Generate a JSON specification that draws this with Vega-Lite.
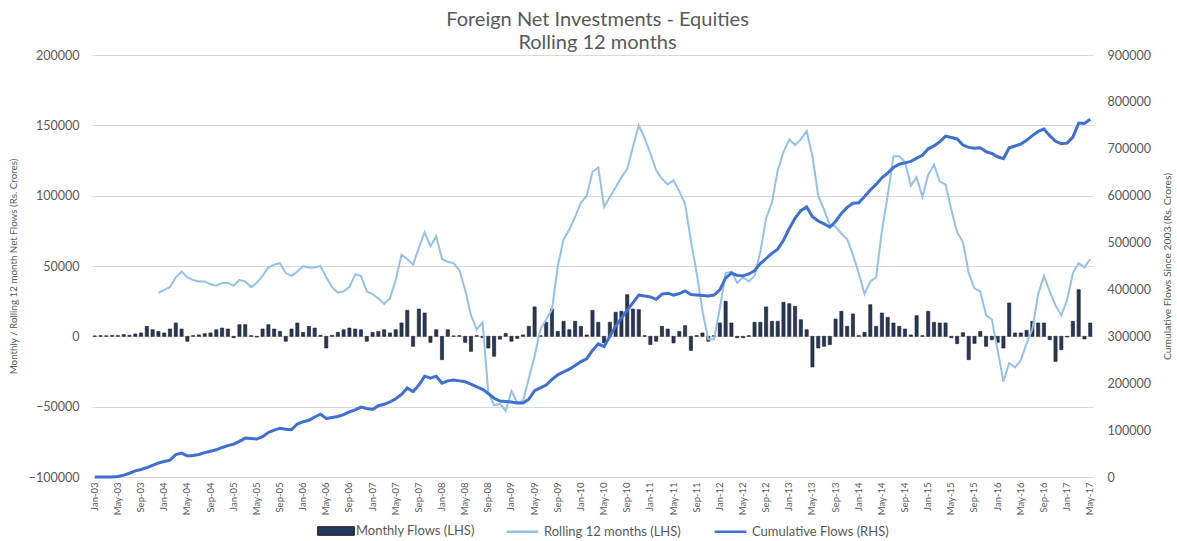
{
  "$schema": "https://vega.github.io/schema/vega-lite/v6.json",
  "width": 1001,
  "height": 422,
  "autosize": {"type": "none"},
  "padding": {"left": 92, "top": 55, "right": 84, "bottom": 64},
  "background": "white",
  "title": {
    "text": ["Foreign Net Investments - Equities", "Rolling 12 months"],
    "anchor": "middle",
    "fontSize": 20,
    "font": "Lato",
    "fontWeight": "normal",
    "color": "#595959",
    "lineHeight": 23,
    "offset": 2,
    "dx": 5,
    "dy": 6
  },
  "config": {
    "view": {"stroke": null},
    "font": "Lato",
    "axis": {"labelFont": "Lato", "titleFont": "Lato", "labelColor": "#595959", "titleColor": "#595959", "titleFontWeight": "normal"},
    "legend": {"labelFont": "Lato", "labelColor": "#595959", "labelFontSize": 13}
  },
  "data": {
    "values": [
      {"month":"Jan-03","monthly":300,"rolling":null,"cumulative":0},
      {"month":"Feb-03","monthly":500,"rolling":null,"cumulative":0},
      {"month":"Mar-03","monthly":400,"rolling":null,"cumulative":0},
      {"month":"Apr-03","monthly":600,"rolling":null,"cumulative":0},
      {"month":"May-03","monthly":500,"rolling":null,"cumulative":1000},
      {"month":"Jun-03","monthly":1200,"rolling":null,"cumulative":4000},
      {"month":"Jul-03","monthly":700,"rolling":null,"cumulative":8000},
      {"month":"Aug-03","monthly":1700,"rolling":null,"cumulative":13000},
      {"month":"Sep-03","monthly":2400,"rolling":null,"cumulative":16000},
      {"month":"Oct-03","monthly":7100,"rolling":null,"cumulative":20000},
      {"month":"Nov-03","monthly":4700,"rolling":null,"cumulative":25000},
      {"month":"Dec-03","monthly":3500,"rolling":31000,"cumulative":30000},
      {"month":"Jan-04","monthly":2400,"rolling":33000,"cumulative":33000},
      {"month":"Feb-04","monthly":5200,"rolling":35000,"cumulative":36000},
      {"month":"Mar-04","monthly":9500,"rolling":42000,"cumulative":48000},
      {"month":"Apr-04","monthly":5200,"rolling":46000,"cumulative":51000},
      {"month":"May-04","monthly":-3500,"rolling":42000,"cumulative":45000},
      {"month":"Jun-04","monthly":500,"rolling":40000,"cumulative":46000},
      {"month":"Jul-04","monthly":1000,"rolling":39000,"cumulative":48000},
      {"month":"Aug-04","monthly":1900,"rolling":39000,"cumulative":52000},
      {"month":"Sep-04","monthly":2400,"rolling":37000,"cumulative":55000},
      {"month":"Oct-04","monthly":4700,"rolling":36000,"cumulative":58000},
      {"month":"Nov-04","monthly":5900,"rolling":38000,"cumulative":63000},
      {"month":"Dec-04","monthly":5200,"rolling":38000,"cumulative":67000},
      {"month":"Jan-05","monthly":-1000,"rolling":36000,"cumulative":70000},
      {"month":"Feb-05","monthly":8300,"rolling":40000,"cumulative":76000},
      {"month":"Mar-05","monthly":8300,"rolling":39000,"cumulative":83000},
      {"month":"Apr-05","monthly":500,"rolling":35000,"cumulative":82000},
      {"month":"May-05","monthly":-500,"rolling":38000,"cumulative":81000},
      {"month":"Jun-05","monthly":5200,"rolling":43000,"cumulative":86000},
      {"month":"Jul-05","monthly":8300,"rolling":49000,"cumulative":95000},
      {"month":"Aug-05","monthly":5200,"rolling":51000,"cumulative":100000},
      {"month":"Sep-05","monthly":3500,"rolling":52000,"cumulative":104000},
      {"month":"Oct-05","monthly":-3500,"rolling":45000,"cumulative":102000},
      {"month":"Nov-05","monthly":5200,"rolling":43000,"cumulative":101000},
      {"month":"Dec-05","monthly":9500,"rolling":46000,"cumulative":113000},
      {"month":"Jan-06","monthly":2800,"rolling":50000,"cumulative":118000},
      {"month":"Feb-06","monthly":7100,"rolling":49000,"cumulative":121000},
      {"month":"Mar-06","monthly":5900,"rolling":49000,"cumulative":128000},
      {"month":"Apr-06","monthly":700,"rolling":50000,"cumulative":134000},
      {"month":"May-06","monthly":-8300,"rolling":42000,"cumulative":125000},
      {"month":"Jun-06","monthly":700,"rolling":35000,"cumulative":127000},
      {"month":"Jul-06","monthly":2800,"rolling":31000,"cumulative":129000},
      {"month":"Aug-06","monthly":4700,"rolling":32000,"cumulative":133000},
      {"month":"Sep-06","monthly":5900,"rolling":35000,"cumulative":139000},
      {"month":"Oct-06","monthly":5200,"rolling":44000,"cumulative":143000},
      {"month":"Nov-06","monthly":4700,"rolling":43000,"cumulative":149000},
      {"month":"Dec-06","monthly":-3500,"rolling":32000,"cumulative":146000},
      {"month":"Jan-07","monthly":2800,"rolling":30000,"cumulative":144000},
      {"month":"Feb-07","monthly":3500,"rolling":27000,"cumulative":152000},
      {"month":"Mar-07","monthly":4700,"rolling":23000,"cumulative":155000},
      {"month":"Apr-07","monthly":2400,"rolling":27000,"cumulative":160000},
      {"month":"May-07","monthly":4700,"rolling":40000,"cumulative":167000},
      {"month":"Jun-07","monthly":9500,"rolling":58000,"cumulative":176000},
      {"month":"Jul-07","monthly":18500,"rolling":55000,"cumulative":190000},
      {"month":"Aug-07","monthly":-7100,"rolling":51000,"cumulative":182000},
      {"month":"Sep-07","monthly":19400,"rolling":63000,"cumulative":196000},
      {"month":"Oct-07","monthly":16600,"rolling":74000,"cumulative":215000},
      {"month":"Nov-07","monthly":-4300,"rolling":64000,"cumulative":211000},
      {"month":"Dec-07","monthly":4700,"rolling":71000,"cumulative":215000},
      {"month":"Jan-08","monthly":-16600,"rolling":55000,"cumulative":200000},
      {"month":"Feb-08","monthly":4700,"rolling":53000,"cumulative":205000},
      {"month":"Mar-08","monthly":300,"rolling":52000,"cumulative":207000},
      {"month":"Apr-08","monthly":500,"rolling":47000,"cumulative":205000},
      {"month":"May-08","monthly":-4300,"rolling":33000,"cumulative":203000},
      {"month":"Jun-08","monthly":-10700,"rolling":15000,"cumulative":198000},
      {"month":"Jul-08","monthly":500,"rolling":5000,"cumulative":192000},
      {"month":"Aug-08","monthly":-1000,"rolling":10000,"cumulative":187000},
      {"month":"Sep-08","monthly":-8300,"rolling":-40000,"cumulative":178000},
      {"month":"Oct-08","monthly":-14200,"rolling":-49000,"cumulative":168000},
      {"month":"Nov-08","monthly":-2000,"rolling":-48000,"cumulative":162000},
      {"month":"Dec-08","monthly":2000,"rolling":-53000,"cumulative":161000},
      {"month":"Jan-09","monthly":-3500,"rolling":-39000,"cumulative":160000},
      {"month":"Feb-09","monthly":-1500,"rolling":-47000,"cumulative":158000},
      {"month":"Mar-09","monthly":1000,"rolling":-46000,"cumulative":158000},
      {"month":"Apr-09","monthly":7100,"rolling":-30000,"cumulative":166000},
      {"month":"May-09","monthly":20900,"rolling":-14000,"cumulative":184000},
      {"month":"Jun-09","monthly":500,"rolling":5000,"cumulative":190000},
      {"month":"Jul-09","monthly":10000,"rolling":12000,"cumulative":196000},
      {"month":"Aug-09","monthly":19400,"rolling":19000,"cumulative":208000},
      {"month":"Sep-09","monthly":3500,"rolling":50000,"cumulative":218000},
      {"month":"Oct-09","monthly":10700,"rolling":69000,"cumulative":224000},
      {"month":"Nov-09","monthly":4700,"rolling":76000,"cumulative":230000},
      {"month":"Dec-09","monthly":10700,"rolling":85000,"cumulative":238000},
      {"month":"Jan-10","monthly":7100,"rolling":95000,"cumulative":246000},
      {"month":"Feb-10","monthly":1000,"rolling":100000,"cumulative":252000},
      {"month":"Mar-10","monthly":18500,"rolling":117000,"cumulative":270000},
      {"month":"Apr-10","monthly":10000,"rolling":120000,"cumulative":284000},
      {"month":"May-10","monthly":-4700,"rolling":92000,"cumulative":278000},
      {"month":"Jun-10","monthly":10000,"rolling":99000,"cumulative":300000},
      {"month":"Jul-10","monthly":17100,"rolling":106000,"cumulative":322000},
      {"month":"Aug-10","monthly":17800,"rolling":113000,"cumulative":339000},
      {"month":"Sep-10","monthly":29600,"rolling":119000,"cumulative":356000},
      {"month":"Oct-10","monthly":19400,"rolling":135000,"cumulative":372000},
      {"month":"Nov-10","monthly":19000,"rolling":150000,"cumulative":388000},
      {"month":"Dec-10","monthly":500,"rolling":141000,"cumulative":386000},
      {"month":"Jan-11","monthly":-5900,"rolling":130000,"cumulative":384000},
      {"month":"Feb-11","monthly":-3500,"rolling":118000,"cumulative":379000},
      {"month":"Mar-11","monthly":7100,"rolling":112000,"cumulative":390000},
      {"month":"Apr-11","monthly":5200,"rolling":108000,"cumulative":392000},
      {"month":"May-11","monthly":-4700,"rolling":111000,"cumulative":388000},
      {"month":"Jun-11","monthly":3500,"rolling":103000,"cumulative":391000},
      {"month":"Jul-11","monthly":7600,"rolling":94000,"cumulative":397000},
      {"month":"Aug-11","monthly":-10000,"rolling":68000,"cumulative":389000},
      {"month":"Sep-11","monthly":500,"rolling":45000,"cumulative":388000},
      {"month":"Oct-11","monthly":2400,"rolling":18000,"cumulative":387000},
      {"month":"Nov-11","monthly":-3500,"rolling":-2000,"cumulative":386000},
      {"month":"Dec-11","monthly":500,"rolling":-2000,"cumulative":388000},
      {"month":"Jan-12","monthly":9500,"rolling":20000,"cumulative":399000},
      {"month":"Feb-12","monthly":24900,"rolling":45000,"cumulative":424000},
      {"month":"Mar-12","monthly":9500,"rolling":46000,"cumulative":435000},
      {"month":"Apr-12","monthly":-1000,"rolling":38000,"cumulative":430000},
      {"month":"May-12","monthly":-1000,"rolling":42000,"cumulative":429000},
      {"month":"Jun-12","monthly":500,"rolling":39000,"cumulative":433000},
      {"month":"Jul-12","monthly":10000,"rolling":43000,"cumulative":440000},
      {"month":"Aug-12","monthly":10000,"rolling":60000,"cumulative":455000},
      {"month":"Sep-12","monthly":20900,"rolling":84000,"cumulative":466000},
      {"month":"Oct-12","monthly":10700,"rolling":95000,"cumulative":477000},
      {"month":"Nov-12","monthly":10700,"rolling":118000,"cumulative":486000},
      {"month":"Dec-12","monthly":24200,"rolling":131000,"cumulative":505000},
      {"month":"Jan-13","monthly":23200,"rolling":140000,"cumulative":530000},
      {"month":"Feb-13","monthly":21300,"rolling":136000,"cumulative":552000},
      {"month":"Mar-13","monthly":11800,"rolling":140000,"cumulative":568000},
      {"month":"Apr-13","monthly":4700,"rolling":146000,"cumulative":576000},
      {"month":"May-13","monthly":-21800,"rolling":128000,"cumulative":555000},
      {"month":"Jun-13","monthly":-8300,"rolling":100000,"cumulative":546000},
      {"month":"Jul-13","monthly":-7100,"rolling":90000,"cumulative":540000},
      {"month":"Aug-13","monthly":-5900,"rolling":79000,"cumulative":533000},
      {"month":"Sep-13","monthly":12300,"rolling":78000,"cumulative":545000},
      {"month":"Oct-13","monthly":17800,"rolling":73000,"cumulative":562000},
      {"month":"Nov-13","monthly":7100,"rolling":69000,"cumulative":575000},
      {"month":"Dec-13","monthly":15900,"rolling":58000,"cumulative":584000},
      {"month":"Jan-14","monthly":500,"rolling":45000,"cumulative":585000},
      {"month":"Feb-14","monthly":2800,"rolling":30000,"cumulative":598000},
      {"month":"Mar-14","monthly":22500,"rolling":39000,"cumulative":612000},
      {"month":"Apr-14","monthly":7100,"rolling":42000,"cumulative":624000},
      {"month":"May-14","monthly":16600,"rolling":75000,"cumulative":638000},
      {"month":"Jun-14","monthly":13500,"rolling":100000,"cumulative":648000},
      {"month":"Jul-14","monthly":9500,"rolling":128000,"cumulative":660000},
      {"month":"Aug-14","monthly":7100,"rolling":128000,"cumulative":667000},
      {"month":"Sep-14","monthly":5200,"rolling":124000,"cumulative":670000},
      {"month":"Oct-14","monthly":1000,"rolling":107000,"cumulative":673000},
      {"month":"Nov-14","monthly":14700,"rolling":113000,"cumulative":680000},
      {"month":"Dec-14","monthly":500,"rolling":99000,"cumulative":686000},
      {"month":"Jan-15","monthly":17800,"rolling":115000,"cumulative":700000},
      {"month":"Feb-15","monthly":10000,"rolling":122000,"cumulative":706000},
      {"month":"Mar-15","monthly":9500,"rolling":110000,"cumulative":715000},
      {"month":"Apr-15","monthly":9500,"rolling":108000,"cumulative":727000},
      {"month":"May-15","monthly":-1000,"rolling":90000,"cumulative":724000},
      {"month":"Jun-15","monthly":-5200,"rolling":74000,"cumulative":721000},
      {"month":"Jul-15","monthly":2600,"rolling":67000,"cumulative":708000},
      {"month":"Aug-15","monthly":-16600,"rolling":45000,"cumulative":703000},
      {"month":"Sep-15","monthly":-5000,"rolling":34000,"cumulative":701000},
      {"month":"Oct-15","monthly":3500,"rolling":32000,"cumulative":702000},
      {"month":"Nov-15","monthly":-7100,"rolling":15000,"cumulative":694000},
      {"month":"Dec-15","monthly":-2400,"rolling":12000,"cumulative":690000},
      {"month":"Jan-16","monthly":-4300,"rolling":-10000,"cumulative":683000},
      {"month":"Feb-16","monthly":-8300,"rolling":-32000,"cumulative":679000},
      {"month":"Mar-16","monthly":23700,"rolling":-19000,"cumulative":702000},
      {"month":"Apr-16","monthly":2400,"rolling":-22000,"cumulative":706000},
      {"month":"May-16","monthly":2400,"rolling":-17000,"cumulative":710000},
      {"month":"Jun-16","monthly":4300,"rolling":-5000,"cumulative":718000},
      {"month":"Jul-16","monthly":10700,"rolling":5000,"cumulative":728000},
      {"month":"Aug-16","monthly":9500,"rolling":30000,"cumulative":737000},
      {"month":"Sep-16","monthly":9500,"rolling":43000,"cumulative":742000},
      {"month":"Oct-16","monthly":-2400,"rolling":32000,"cumulative":728000},
      {"month":"Nov-16","monthly":-17800,"rolling":22000,"cumulative":716000},
      {"month":"Dec-16","monthly":-9500,"rolling":15000,"cumulative":711000},
      {"month":"Jan-17","monthly":-500,"rolling":26000,"cumulative":712000},
      {"month":"Feb-17","monthly":10700,"rolling":45000,"cumulative":725000},
      {"month":"Mar-17","monthly":33200,"rolling":52000,"cumulative":755000},
      {"month":"Apr-17","monthly":-1900,"rolling":49000,"cumulative":754000},
      {"month":"May-17","monthly":9500,"rolling":55000,"cumulative":763000}
    ]
  },
  "encoding": {
    "x": {
      "field": "month",
      "type": "ordinal",
      "sort": null,
      "scale": {"paddingInner": 0.45, "paddingOuter": 0.2},
      "axis": {
        "values": ["Jan-03","May-03","Sep-03","Jan-04","May-04","Sep-04","Jan-05","May-05","Sep-05","Jan-06","May-06","Sep-06","Jan-07","May-07","Sep-07","Jan-08","May-08","Sep-08","Jan-09","May-09","Sep-09","Jan-10","May-10","Sep-10","Jan-11","May-11","Sep-11","Jan-12","May-12","Sep-12","Jan-13","May-13","Sep-13","Jan-14","May-14","Sep-14","Jan-15","May-15","Sep-15","Jan-16","May-16","Sep-16","Jan-17","May-17"],
        "labelAngle": -90,
        "ticks": false,
        "domain": false,
        "grid": false,
        "title": null,
        "labelFontSize": 9.5,
        "labelPadding": 5
      }
    }
  },
  "layer": [
    {
      "layer": [
        {
          "mark": {"type": "bar", "stroke": "#1c1c1c", "strokeWidth": 0.6},
          "encoding": {
            "y": {
              "field": "monthly",
              "type": "quantitative",
              "scale": {"domain": [-100000, 200000], "nice": false, "zero": false},
              "axis": {
                "title": "Monthly / Rolling 12 month Net Flows (Rs. Crores)",
                "values": [-100000, -50000, 0, 50000, 100000, 150000, 200000],
                "format": "d",
                "grid": true,
                "gridColor": "#d9d9d9",
                "domain": false,
                "ticks": false,
                "labelPadding": 13,
                "labelFontSize": 12.5,
                "titleFontSize": 9.8,
                "titlePadding": 10
              }
            },
            "fill": {
              "datum": "Monthly Flows (LHS)",
              "scale": {"range": ["#26385c"]},
              "legend": {
                "orient": "none",
                "legendX": 231,
                "legendY": 463,
                "direction": "horizontal",
                "title": null,
                "symbolType": "M-1.5,-0.35H1.5V0.35H-1.5Z",
                "symbolSize": 600,
                "symbolStrokeColor": "#1a1a1a",
                "symbolStrokeWidth": 1,
                "labelOffset": 7
              }
            }
          }
        },
        {
          "mark": {"type": "line", "strokeWidth": 2},
          "encoding": {
            "y": {
              "field": "rolling",
              "type": "quantitative",
              "scale": {"domain": [-100000, 200000], "nice": false, "zero": false},
              "axis": {
                "title": "Monthly / Rolling 12 month Net Flows (Rs. Crores)",
                "values": [-100000, -50000, 0, 50000, 100000, 150000, 200000],
                "format": "d",
                "grid": true,
                "gridColor": "#d9d9d9",
                "domain": false,
                "ticks": false,
                "labelPadding": 13,
                "labelFontSize": 12.5,
                "titleFontSize": 9.8,
                "titlePadding": 10
              }
            },
            "stroke": {
              "datum": "Rolling 12 months (LHS)",
              "scale": {"domain": ["Rolling 12 months (LHS)", "Cumulative Flows (RHS)"], "range": ["#95c0e8", "#3f6fd0"]},
              "legend": {
                "orient": "none",
                "legendX": 413,
                "legendY": 459,
                "direction": "horizontal",
                "title": null,
                "symbolType": "stroke",
                "symbolSize": 1000,
                "symbolStrokeWidth": 2.5,
                "columnPadding": 28,
                "labelOffset": 4
              }
            }
          }
        }
      ]
    },
    {
      "mark": {"type": "line", "strokeWidth": 3},
      "encoding": {
        "y": {
          "field": "cumulative",
          "type": "quantitative",
          "scale": {"domain": [0, 900000], "nice": false},
          "axis": {
            "orient": "right",
            "title": "Cumulative Flows Since 2003 (Rs. Crores)",
            "values": [0, 100000, 200000, 300000, 400000, 500000, 600000, 700000, 800000, 900000],
            "format": "d",
            "grid": false,
            "domain": false,
            "ticks": false,
            "labelPadding": 14,
            "labelFontSize": 12.5,
            "titleFontSize": 10.3,
            "titleAngle": 270,
            "titlePadding": 22
          }
        },
        "stroke": {"datum": "Cumulative Flows (RHS)"}
      }
    }
  ],
  "resolve": {"scale": {"y": "independent"}}
}
